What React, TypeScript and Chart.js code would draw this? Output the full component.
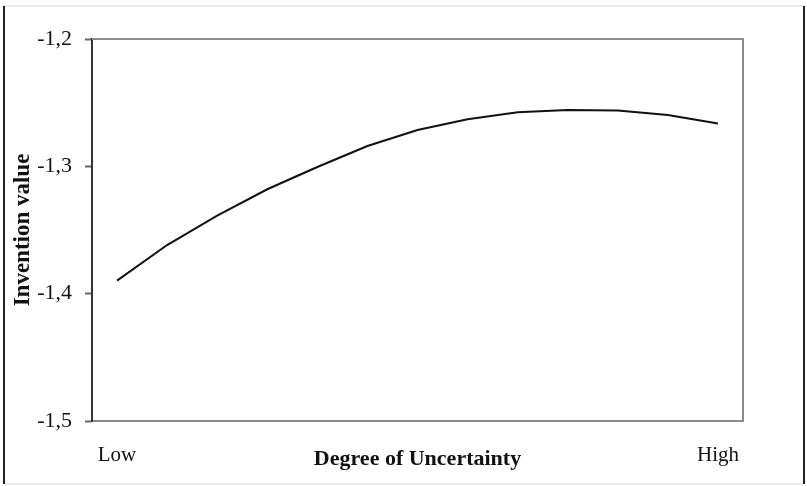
import React, { useEffect, useRef } from "react";
import { Chart, registerables } from "chart.js";

Chart.register(...registerables);

// Uncertainty levels from Low to High (13 evenly spaced steps)
const categories: string[] = ["0", "1", "2", "3", "4", "5", "6", "7", "8", "9", "10", "11", "12"];
const endLabels: string[] = ["Low", "High"];
const inventionValue: number[] = [
  -1.3898, -1.3618, -1.3388, -1.318, -1.3005, -1.284, -1.2715, -1.2631, -1.2576, -1.2558, -1.2562, -1.2597, -1.2664,
];
const yTicks: number[] = [-1.5, -1.4, -1.3, -1.2];
const xTitle = "Degree of Uncertainty";
const yTitle = "Invention value";

const SERIF = "'Liberation Serif', 'Times New Roman', Times, serif";

const framePlugin = {
  id: "frame",
  afterDraw(chart: any) {
    const { ctx, chartArea, width, height } = chart;
    ctx.save();
    // plot frame: top and right
    ctx.strokeStyle = "#8a8a8a";
    ctx.lineWidth = 2;
    ctx.beginPath();
    ctx.moveTo(chartArea.left, chartArea.top);
    ctx.lineTo(chartArea.right, chartArea.top);
    ctx.lineTo(chartArea.right, chartArea.bottom);
    ctx.stroke();
    // outer picture border
    ctx.strokeStyle = "#ececec";
    ctx.lineWidth = 2;
    ctx.beginPath();
    ctx.moveTo(3, 6);
    ctx.lineTo(width - 3, 6);
    ctx.moveTo(3, height - 2);
    ctx.lineTo(width - 3, height - 2);
    ctx.stroke();
    ctx.strokeStyle = "#222";
    ctx.lineWidth = 2;
    ctx.beginPath();
    ctx.moveTo(4, 6);
    ctx.lineTo(4, height - 2);
    ctx.moveTo(width - 3, 6);
    ctx.lineTo(width - 3, height - 2);
    ctx.stroke();
    ctx.restore();
  },
};

export default function App() {
  const ref = useRef<HTMLCanvasElement | null>(null);

  useEffect(() => {
    if (!ref.current) return;
    const chart = new Chart(ref.current, {
      type: "line",
      data: {
        labels: categories,
        datasets: [
          {
            label: yTitle,
            data: inventionValue,
            borderColor: "#111111",
            borderWidth: 2,
            pointRadius: 0,
            tension: 0,
            fill: false,
          },
        ],
      },
      options: {
        responsive: false,
        animation: false,
        layout: { padding: { left: 0, top: 39, right: 64, bottom: 0 } },
        plugins: {
          legend: { display: false },
          tooltip: { enabled: false },
        },
        scales: {
          x: {
            type: "category",
            offset: true,
            grid: { display: true, drawOnChartArea: false, drawTicks: false },
            border: { display: true, color: "#8a8a8a", width: 2 },
            ticks: {
              autoSkip: false,
              maxRotation: 0,
              minRotation: 0,
              padding: 22,
              color: "#111",
              font: { family: SERIF, size: 21 },
              callback: (_v: any, i: number) =>
                i === 0 ? endLabels[0] : i === categories.length - 1 ? endLabels[1] : "",
            },
            title: {
              display: true,
              text: xTitle,
              color: "#111",
              font: { family: SERIF, size: 22, weight: "bold" },
              padding: { top: 0, bottom: 13 },
            },
            afterFit: (scale: any) => {
              scale.height = 65;
            },
          },
          y: {
            min: -1.5,
            max: -1.2,
            afterBuildTicks: (scale: any) => {
              scale.ticks = yTicks.map((v) => ({ value: v }));
            },
            grid: {
              display: true,
              drawOnChartArea: false,
              drawTicks: true,
              tickLength: 7,
              tickWidth: 2,
              tickColor: "#666",
            },
            border: { display: true, color: "#333", width: 2 },
            ticks: {
              padding: 13,
              color: "#111",
              font: { family: SERIF, size: 22 },
              callback: (v: any) => Number(v).toFixed(1).replace(".", ","),
            },
            title: {
              display: true,
              text: yTitle,
              color: "#111",
              font: { family: SERIF, size: 23, weight: "bold" },
              padding: { top: 9, bottom: 0 },
            },
            afterFit: (scale: any) => {
              scale.width = 92;
            },
          },
        },
      },
      plugins: [framePlugin],
    });
    return () => chart.destroy();
  }, []);

  return (
    <div style={{ position: "absolute", left: 0, top: 0, width: 807, height: 486, background: "#fff" }}>
      <canvas ref={ref} width={807} height={486} />
    </div>
  );
}
